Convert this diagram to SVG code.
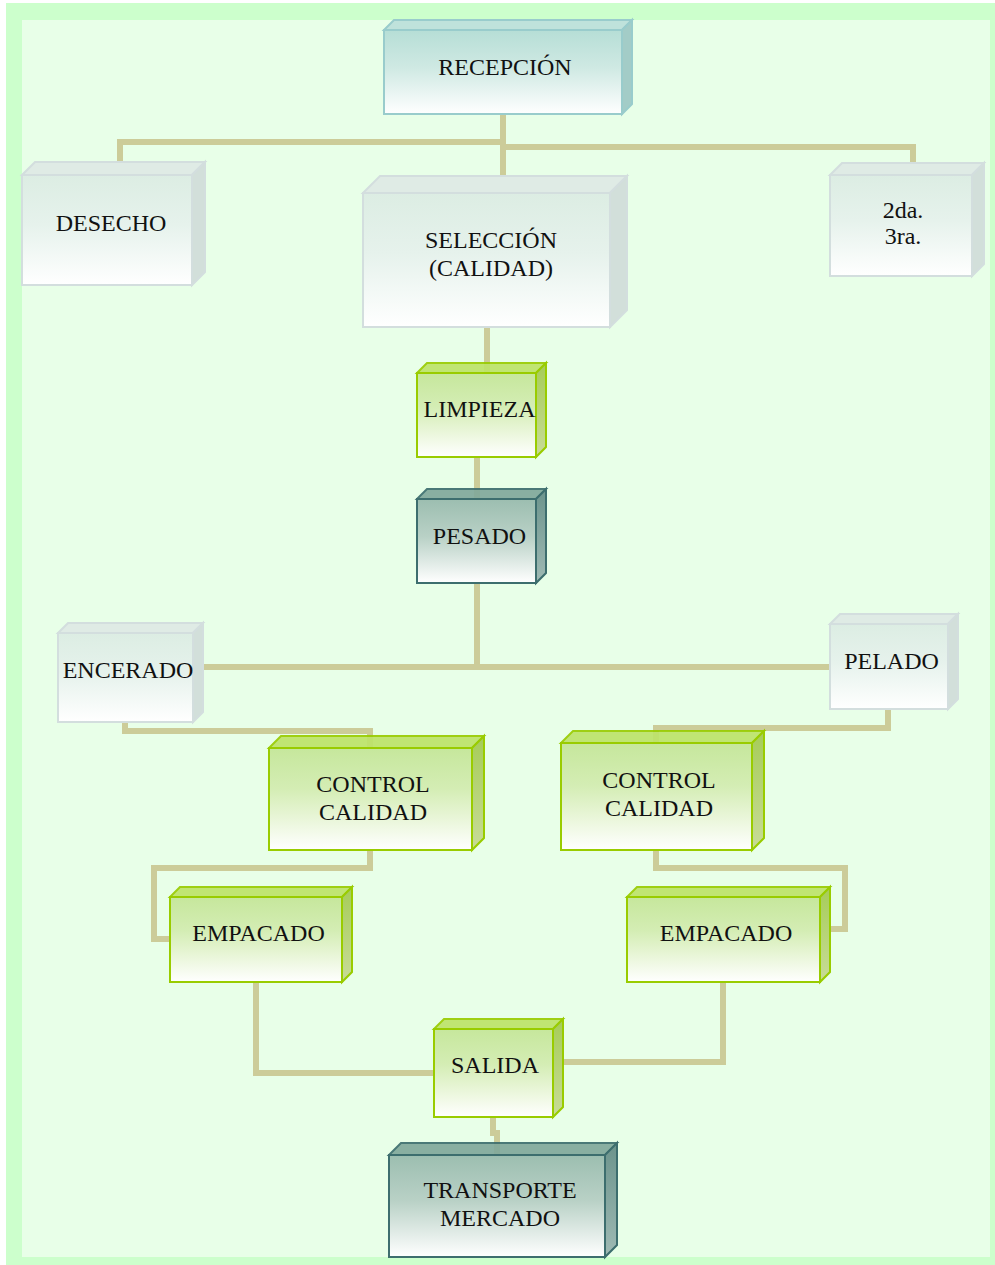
<svg xmlns="http://www.w3.org/2000/svg" width="995" height="1265" viewBox="0 0 995 1265">
<defs>
<linearGradient id="gTeal" x1="0" y1="0" x2="0" y2="1"><stop offset="0" stop-color="#b6ded6"/><stop offset="0.45" stop-color="#cfe9e3"/><stop offset="1" stop-color="#ffffff"/></linearGradient>
<linearGradient id="gGray" x1="0" y1="0" x2="0" y2="1"><stop offset="0" stop-color="#dcede3"/><stop offset="0.45" stop-color="#e6f2ec"/><stop offset="1" stop-color="#ffffff"/></linearGradient>
<linearGradient id="gGreen" x1="0" y1="0" x2="0" y2="1"><stop offset="0" stop-color="#c6e79c"/><stop offset="0.4" stop-color="#d4edb4"/><stop offset="1" stop-color="#ffffff"/></linearGradient>
<linearGradient id="gDark" x1="0" y1="0" x2="0" y2="1"><stop offset="0" stop-color="#9cbeb0"/><stop offset="0.45" stop-color="#b9d1c6"/><stop offset="1" stop-color="#ffffff"/></linearGradient>
<linearGradient id="sGreen" x1="0" y1="0" x2="0" y2="1"><stop offset="0" stop-color="#a6cc58"/><stop offset="1" stop-color="#c8dc98"/></linearGradient>
<linearGradient id="sDark" x1="0" y1="0" x2="0" y2="1"><stop offset="0" stop-color="#6c948c"/><stop offset="1" stop-color="#9fbab4"/></linearGradient>
</defs>
<style>
.con{fill:none;stroke:#cccc99;stroke-width:6;}
text{font-family:"Liberation Serif","Times New Roman",serif;font-size:24px;fill:#111;text-anchor:middle;}
.teal .f{fill:url(#gTeal);stroke:#99cccc;stroke-width:2;}
.teal .t{fill:#bfe2db;stroke:#99cccc;stroke-width:2;}
.teal .s{fill:#a3ccc7;stroke:#99cccc;stroke-width:2;}
.gray .f{fill:url(#gGray);stroke:#d3dede;stroke-width:2;}
.gray .t{fill:#dfebe5;stroke:#d3dede;stroke-width:2;}
.gray .s{fill:#d2dfda;stroke:#d3dede;stroke-width:2;}
.green .f{fill:url(#gGreen);stroke:#99cc00;stroke-width:2;}
.green .t{fill:#bde36a;stroke:#99cc00;stroke-width:2;opacity:0.92;}
.green .s{fill:url(#sGreen);stroke:#99cc00;stroke-width:2;}
.dark .f{fill:url(#gDark);stroke:#3d6e6e;stroke-width:2;}
.dark .t{fill:#82a99b;stroke:#3d6e6e;stroke-width:2;opacity:0.92;}
.dark .s{fill:url(#sDark);stroke:#3d6e6e;stroke-width:2;}
</style>
<rect x="6" y="3" width="989" height="1262" fill="#ccffcc"/>
<rect x="22" y="20" width="968" height="1237" fill="#e8ffe8"/>
<g id="connectors">
<path class="con" d="M503 114 V193"/>
<path class="con" d="M120 163 V142 H503"/>
<path class="con" d="M503 147 H913 V163"/>
<path class="con" d="M487 327 V373"/>
<path class="con" d="M477 457 V499"/>
<path class="con" d="M477 583 V667"/>
<path class="con" d="M193 667 H830"/>
<path class="con" d="M125 722 V731 H370 V748"/>
<path class="con" d="M888 709 V728 H656 V743"/>
<path class="con" d="M370 850 V868 H154 V939 H170"/>
<path class="con" d="M656 850 V868 H845 V929 H820"/>
<path class="con" d="M256 982 V1073 H434"/>
<path class="con" d="M723 982 V1062 H553"/>
<path class="con" d="M493 1117 V1133 H497 V1155"/>
</g>
<g id="recepcion" class="teal">
<polygon class="t" points="384,30 394,20 632,20 622,30"/>
<polygon class="s" points="622,30 632,20 632,104 622,114"/>
<rect class="f" x="384" y="30" width="238" height="84"/>
<text x="505" y="75">RECEPCIÓN</text>
</g>
<g id="desecho" class="gray">
<polygon class="t" points="22,175 35,162 205,162 192,175"/>
<polygon class="s" points="192,175 205,162 205,272 192,285"/>
<rect class="f" x="22" y="175" width="170" height="110"/>
<text x="111" y="231">DESECHO</text>
</g>
<g id="seleccion" class="gray">
<polygon class="t" points="363,193 380,176 627,176 610,193"/>
<polygon class="s" points="610,193 627,176 627,310 610,327"/>
<rect class="f" x="363" y="193" width="247" height="134"/>
<text x="491" y="248">SELECCIÓN</text>
<text x="491" y="276">(CALIDAD)</text>
</g>
<g id="segunda" class="gray">
<polygon class="t" points="830,175 842,163 984,163 972,175"/>
<polygon class="s" points="972,175 984,163 984,264 972,276"/>
<rect class="f" x="830" y="175" width="142" height="101"/>
<text x="903" y="218">2da.</text>
<text x="903" y="244">3ra.</text>
</g>
<g id="limpieza" class="green">
<polygon class="t" points="417,373 427,363 546,363 536,373"/>
<polygon class="s" points="536,373 546,363 546,447 536,457"/>
<rect class="f" x="417" y="373" width="119" height="84"/>
<text x="479.5" y="417">LIMPIEZA</text>
</g>
<g id="pesado" class="dark">
<polygon class="t" points="417,499 427,489 546,489 536,499"/>
<polygon class="s" points="536,499 546,489 546,573 536,583"/>
<rect class="f" x="417" y="499" width="119" height="84"/>
<text x="479.5" y="544">PESADO</text>
</g>
<g id="encerado" class="gray">
<polygon class="t" points="58,633 68,623 203,623 193,633"/>
<polygon class="s" points="193,633 203,623 203,712 193,722"/>
<rect class="f" x="58" y="633" width="135" height="89"/>
<text x="128" y="678">ENCERADO</text>
</g>
<g id="pelado" class="gray">
<polygon class="t" points="830,624 840,614 958,614 948,624"/>
<polygon class="s" points="948,624 958,614 958,699 948,709"/>
<rect class="f" x="830" y="624" width="118" height="85"/>
<text x="891.5" y="669">PELADO</text>
</g>
<g id="control-izq" class="green">
<polygon class="t" points="269,748 281,736 484,736 472,748"/>
<polygon class="s" points="472,748 484,736 484,838 472,850"/>
<rect class="f" x="269" y="748" width="203" height="102"/>
<text x="373" y="792">CONTROL</text>
<text x="373" y="820">CALIDAD</text>
</g>
<g id="control-der" class="green">
<polygon class="t" points="561,743 573,731 764,731 752,743"/>
<polygon class="s" points="752,743 764,731 764,838 752,850"/>
<rect class="f" x="561" y="743" width="191" height="107"/>
<text x="659" y="788">CONTROL</text>
<text x="659" y="816">CALIDAD</text>
</g>
<g id="empacado-izq" class="green">
<polygon class="t" points="170,897 180,887 352,887 342,897"/>
<polygon class="s" points="342,897 352,887 352,972 342,982"/>
<rect class="f" x="170" y="897" width="172" height="85"/>
<text x="258.5" y="941">EMPACADO</text>
</g>
<g id="empacado-der" class="green">
<polygon class="t" points="627,897 637,887 830,887 820,897"/>
<polygon class="s" points="820,897 830,887 830,972 820,982"/>
<rect class="f" x="627" y="897" width="193" height="85"/>
<text x="726" y="941">EMPACADO</text>
</g>
<g id="salida" class="green">
<polygon class="t" points="434,1029 444,1019 563,1019 553,1029"/>
<polygon class="s" points="553,1029 563,1019 563,1107 553,1117"/>
<rect class="f" x="434" y="1029" width="119" height="88"/>
<text x="495" y="1073">SALIDA</text>
</g>
<g id="transporte" class="dark">
<polygon class="t" points="389,1155 401,1143 617,1143 605,1155"/>
<polygon class="s" points="605,1155 617,1143 617,1245 605,1257"/>
<rect class="f" x="389" y="1155" width="216" height="102"/>
<text x="500" y="1198">TRANSPORTE</text>
<text x="500" y="1226">MERCADO</text>
</g>
</svg>
